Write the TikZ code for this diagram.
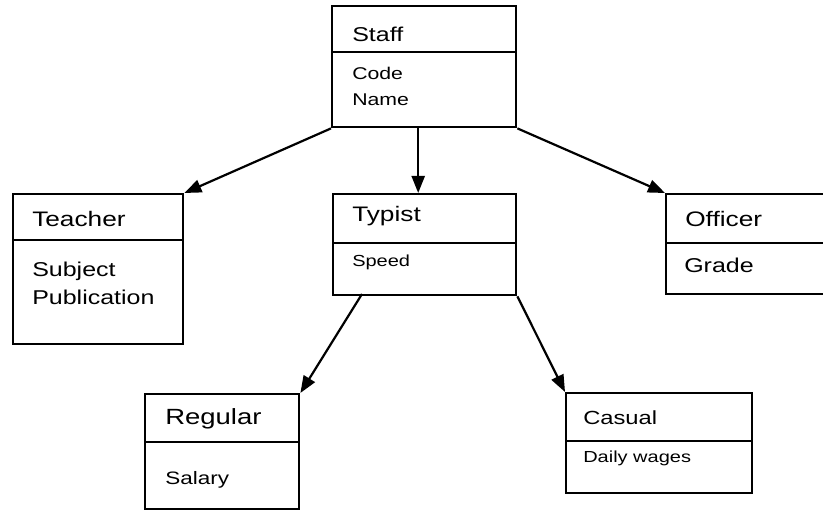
\documentclass[tikz,border=0pt]{standalone}
\usepackage{fontspec}
\setmainfont{Liberation Sans}
\usetikzlibrary{arrows.meta}
\tikzset{
  box/.style={draw, line width=2.4pt, anchor=north west, inner sep=0pt},
  divider/.style={line width=2.4pt},
  conn/.style={line width=2.2pt, -{Triangle[length=17pt,width=13pt]}},
  txt/.style={anchor=base west, inner sep=0pt, xscale=1.25, font=\fontsize{#1}{#1}\selectfont},
}
\begin{document}
\begin{tikzpicture}[x=1pt,y=-1pt]
\clip (0,0) rectangle (823,510);
\fill[white] (0,0) rectangle (823,510);
% boxes
\node[box, minimum width=184pt, minimum height=121pt] (staff) at (331,5) {};
\node[box, minimum width=170pt, minimum height=150pt] (teacher) at (12,193) {};
\node[box, minimum width=183pt, minimum height=101pt] (typist) at (332,193) {};
\node[box, minimum width=170pt, minimum height=100pt] (officer) at (665,193) {};
\node[box, minimum width=154pt, minimum height=115pt] (regular) at (144,393) {};
\node[box, minimum width=186pt, minimum height=100pt] (casual) at (565,392) {};
% dividers
\draw[divider] ([yshift=-47pt]staff.north west) -- ([yshift=-47pt]staff.north east);
\draw[divider] ([yshift=-47pt]teacher.north west) -- ([yshift=-47pt]teacher.north east);
\draw[divider] ([yshift=-50pt]typist.north west) -- ([yshift=-50pt]typist.north east);
\draw[divider] ([yshift=-50pt]officer.north west) -- ([yshift=-50pt]officer.north east);
\draw[divider] ([yshift=-49pt]regular.north west) -- ([yshift=-49pt]regular.north east);
\draw[divider] ([yshift=-49pt]casual.north west) -- ([yshift=-49pt]casual.north east);
% texts
\node[txt=20] (t1) at (352,42) {Staff};
\node[txt=17] (t2) at (352,80) {Code};
\node[txt=17] (t3) at (352,106) {Name};
\node[txt=21] (t4) at (32,227) {Teacher};
\node[txt=20] (t5) at (32,277) {Subject};
\node[txt=20] (t6) at (32,305) {Publication};
\node[txt=21] (t7) at (352,222) {Typist};
\node[txt=16] (t8) at (352,267) {Speed};
\node[txt=21] (t9) at (685,227) {Officer};
\node[txt=20] (t10) at (684,273) {Grade};
\node[txt=22] (t11) at (165,425) {Regular};
\node[txt=18] (t12) at (165,485) {Salary};
\node[txt=19] (t13) at (583,425) {Casual};
\node[txt=16] (t14) at (583,463) {Daily wages};
% connectors
\coordinate (tl) at (362,294);
\draw[conn] (staff.south west) -- (teacher.north east);
\draw[conn] ([xshift=-6pt]staff.south) -- ([xshift=-6pt]staff.south |- typist.north);
\draw[conn] (staff.south east) -- (officer.north west);
\draw[conn] (tl) -- (regular.north east);
\draw[conn] (typist.south east) -- (casual.north west);
\end{tikzpicture}
\end{document}
